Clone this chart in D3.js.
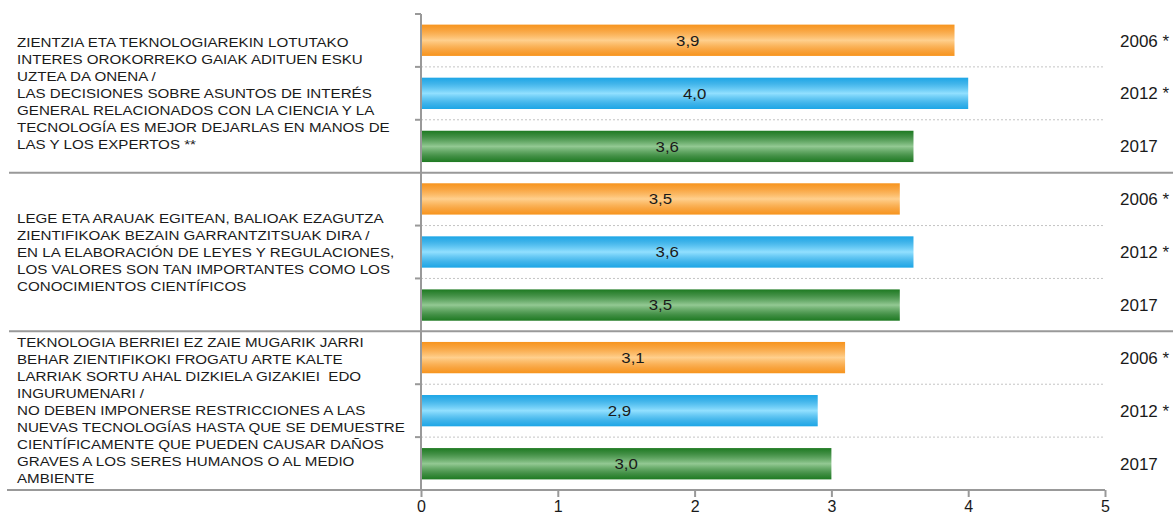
<!DOCTYPE html>
<html>
<head>
<meta charset="utf-8">
<script src="https://cdn.jsdelivr.net/npm/d3@7"></script>
<style>
  body { margin: 0; background: #fff; }
  text { font-family: "Liberation Sans", Arial, sans-serif; fill: #1a1a1a; }
</style>
</head>
<body>
<svg id="chart" width="1173" height="518"></svg>
<script>
// statements (basque / spanish), one array of lines per group
var categories = [
  ["ZIENTZIA ETA TEKNOLOGIAREKIN LOTUTAKO",
   "INTERES OROKORREKO GAIAK ADITUEN ESKU",
   "UZTEA DA ONENA /",
   "LAS DECISIONES SOBRE ASUNTOS DE INTERÉS",
   "GENERAL RELACIONADOS CON LA CIENCIA Y LA",
   "TECNOLOGÍA ES MEJOR DEJARLAS EN MANOS DE",
   "LAS Y LOS EXPERTOS **"],
  ["LEGE ETA ARAUAK EGITEAN, BALIOAK EZAGUTZA",
   "ZIENTIFIKOAK BEZAIN GARRANTZITSUAK DIRA /",
   "EN LA ELABORACIÓN DE LEYES Y REGULACIONES,",
   "LOS VALORES SON TAN IMPORTANTES COMO LOS",
   "CONOCIMIENTOS CIENTÍFICOS"],
  ["TEKNOLOGIA BERRIEI EZ ZAIE MUGARIK JARRI",
   "BEHAR ZIENTIFIKOKI FROGATU ARTE KALTE",
   "LARRIAK SORTU AHAL DIZKIELA GIZAKIEI  EDO",
   "INGURUMENARI /",
   "NO DEBEN IMPONERSE RESTRICCIONES A LAS",
   "NUEVAS TECNOLOGÍAS HASTA QUE SE DEMUESTRE",
   "CIENTÍFICAMENTE QUE PUEDEN CAUSAR DAÑOS",
   "GRAVES A LOS SERES HUMANOS O AL MEDIO",
   "AMBIENTE"]
];
var years = ["2006 *", "2012 *", "2017"];
var values2006 = [3.9, 3.5, 3.1];
var values2012 = [4.0, 3.6, 2.9];
var values2017 = [3.6, 3.5, 3.0];
var xTicks = [0, 1, 2, 3, 4, 5];

var series = [values2006, values2012, values2017];
var palette = [
  {edge: "#f7941d", mid: "#ffd08e"},
  {edge: "#1da6e6", mid: "#92e0ff"},
  {edge: "#1e7a22", mid: "#93c993"}
];

var svg = d3.select("#chart");
var plotTop = 14, plotBottom = 490, plotLeft = 421, plotRight = 1105;

var x = d3.scaleLinear().domain([0, 5]).range([plotLeft, plotRight]);
var yGroup = d3.scaleBand().domain(d3.range(categories.length)).range([plotTop, plotBottom]);
var yRow = d3.scaleBand().domain(d3.range(years.length))
    .range([0, yGroup.bandwidth()]).paddingInner(0.41).paddingOuter(0.2);

// gradients
var defs = svg.append("defs");
palette.forEach(function(p, i) {
  var g = defs.append("linearGradient").attr("id", "grad" + i)
      .attr("x1", 0).attr("y1", 0).attr("x2", 0).attr("y2", 1);
  g.append("stop").attr("offset", "0%").attr("stop-color", p.edge);
  g.append("stop").attr("offset", "18%").attr("stop-color", p.edge).attr("stop-opacity", 0.85);
  g.append("stop").attr("offset", "50%").attr("stop-color", p.mid);
  g.append("stop").attr("offset", "82%").attr("stop-color", p.edge).attr("stop-opacity", 0.85);
  g.append("stop").attr("offset", "100%").attr("stop-color", p.edge);
});

// dotted lines between rows
var rowStep = yGroup.bandwidth() / 3;
categories.forEach(function(c, gi) {
  [1, 2].forEach(function(k) {
    var yy = yGroup(gi) + rowStep * k;
    svg.append("line")
      .attr("x1", plotLeft).attr("x2", plotRight).attr("y1", yy).attr("y2", yy)
      .attr("stroke", "#c4c4c4").attr("stroke-dasharray", "2,2");
    svg.append("line")
      .attr("x1", plotLeft - 6).attr("x2", plotLeft).attr("y1", yy).attr("y2", yy)
      .attr("stroke", "#999").attr("stroke-width", 2);
  });
});

// group separators
d3.range(1, categories.length).forEach(function(gi) {
  var yy = yGroup(gi);
  svg.append("line")
    .attr("x1", 9).attr("x2", 1173).attr("y1", yy).attr("y2", yy)
    .attr("stroke", "#999").attr("stroke-width", 2);
});
svg.append("line")
  .attr("x1", plotLeft - 6).attr("x2", plotLeft).attr("y1", plotTop).attr("y2", plotTop)
  .attr("stroke", "#999").attr("stroke-width", 2);

// bars
categories.forEach(function(c, gi) {
  var g = svg.append("g").attr("transform", "translate(0," + yGroup(gi) + ")");
  series.forEach(function(vals, si) {
    var v = vals[gi];
    g.append("rect")
      .attr("x", x(0)).attr("y", yRow(si))
      .attr("width", x(v) - x(0)).attr("height", yRow.bandwidth())
      .attr("fill", "url(#grad" + si + ")");
    // the source stretches its text a bit horizontally
    var cx = (x(0) + x(v)) / 2, cy = yRow(si) + yRow.bandwidth() / 2;
    g.append("text")
      .attr("transform", "translate(" + cx + "," + cy + ") scale(1.12,1)")
      .attr("dy", "0.36em").attr("text-anchor", "middle")
      .style("font-size", "15px")
      .text(d3.format(".1f")(v).replace(".", ","));
    g.append("text")
      .attr("x", 1120).attr("y", rowStep * si + rowStep / 2)
      .attr("dy", "0.36em")
      .style("font-size", "17px")
      .text(years[si]);
  });

  // category label
  var lh = 17;
  var t = svg.append("text")
    .attr("transform", "translate(17," + (yGroup(gi) + yGroup.bandwidth() / 2 - (c.length - 1) * lh / 2) + ") scale(1.165,1)")
    .style("font-size", "13px");
  c.forEach(function(line, li) {
    t.append("tspan").attr("x", 0).attr("dy", li === 0 ? "0.36em" : lh)
      .attr("xml:space", "preserve").text(line);
  });
});

// axes
svg.append("line")
  .attr("x1", plotLeft).attr("x2", plotLeft).attr("y1", plotTop).attr("y2", plotBottom)
  .attr("stroke", "#999").attr("stroke-width", 2);

var xAxis = svg.append("g")
  .attr("transform", "translate(0," + plotBottom + ")")
  .call(d3.axisBottom(x).tickValues(xTicks).tickSize(7).tickFormat(d3.format("d")));
xAxis.select(".domain").remove();
xAxis.selectAll(".tick line").attr("stroke", "#999").attr("stroke-width", 2);
xAxis.selectAll(".tick text").style("font-size", "16px").attr("fill", "#1a1a1a")
  .attr("y", 11);
svg.append("line")
  .attr("x1", 7).attr("x2", plotRight).attr("y1", plotBottom).attr("y2", plotBottom)
  .attr("stroke", "#999").attr("stroke-width", 2);
</script>
</body>
</html>
